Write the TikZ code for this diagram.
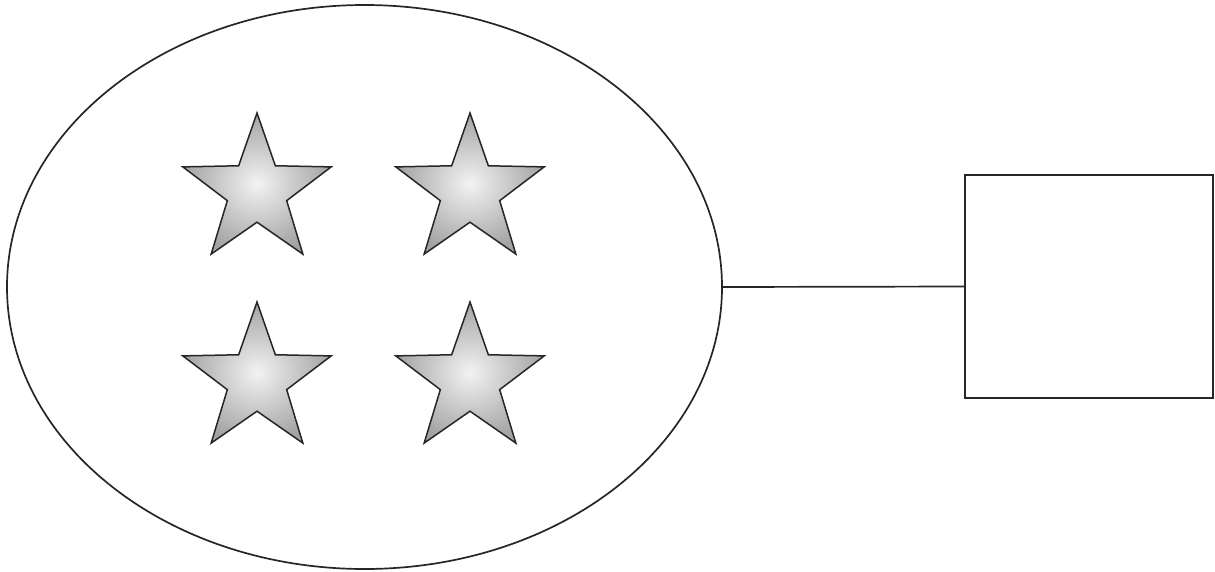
\documentclass[tikz,border=0pt]{standalone}
\usetikzlibrary{shapes.geometric}
\begin{document}
\begin{tikzpicture}[x=1pt,y=-1pt,
  outline/.style={draw=black!85,line width=1.7pt},
  starshape/.style={star,star points=5,star point ratio=2.5,inner sep=0pt,
    minimum size=156pt,draw=black!85,line width=1.5pt,
    inner color=gray!10,outer color=gray!72}]
\useasboundingbox (0,0) rectangle (1215,571);
\node[outline,ellipse,minimum width=715pt,minimum height=564pt,inner sep=0pt] (oval) at (364.5,287) {};
\node[outline,rectangle,minimum width=248pt,minimum height=223pt,inner sep=0pt] (box) at (1089,286.5) {};
\draw[outline] (oval.east) -- (box.west);
\node[starshape] (s1) at (257,191) {};
\node[starshape] (s2) at (470,191) {};
\node[starshape] (s3) at (257,380) {};
\node[starshape] (s4) at (470,380) {};
\end{tikzpicture}
\end{document}
